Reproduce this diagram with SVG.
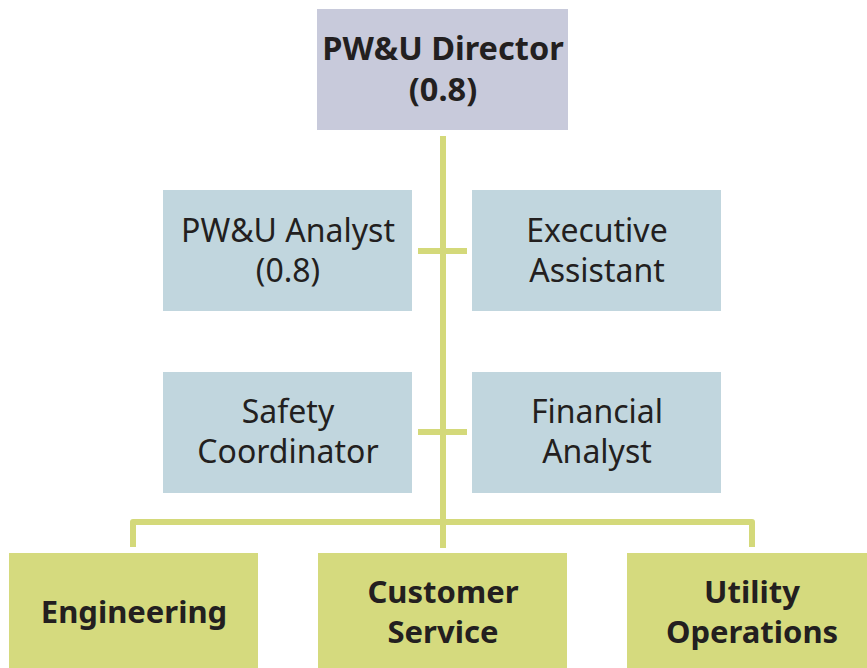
<svg xmlns="http://www.w3.org/2000/svg" width="867" height="668" viewBox="0 0 867 668">
<style>
.dir{fill:#C8CADB}
.staff{fill:#C1D6DE}
.dept{fill:#D5DA7E}
.conn{stroke:#D4D97A;stroke-width:6;fill:none;stroke-linejoin:round}
text{font-family:"Noto Sans","Liberation Sans",sans-serif;fill:#231F20;text-anchor:middle}
.b{font-weight:bold;font-size:31px}
.bd{font-weight:bold;font-size:32.5px}
.r{font-size:32px}
</style>
<rect width="867" height="668" fill="#ffffff"/>
<g id="connectors">
<line class="conn" x1="443" y1="136" x2="443" y2="548"/>
<line class="conn" x1="418" y1="251" x2="467" y2="251"/>
<line class="conn" x1="418" y1="432" x2="467" y2="432"/>
<path class="conn" d="M133 547 V522 H752 V547"/>
</g>
<g id="director">
<rect class="dir" x="317" y="9" width="251" height="121"/>
<text class="bd" x="443" y="60">PW&amp;U Director</text>
<text class="bd" x="443" y="101">(0.8)</text>
</g>
<g id="analyst">
<rect class="staff" x="163" y="190" width="249" height="121"/>
<text class="r" x="288" y="242">PW&amp;U Analyst</text>
<text class="r" x="288" y="282">(0.8)</text>
</g>
<g id="exec-assistant">
<rect class="staff" x="472" y="190" width="249" height="121"/>
<text class="r" x="597" y="242">Executive</text>
<text class="r" x="597" y="282">Assistant</text>
</g>
<g id="safety">
<rect class="staff" x="163" y="372" width="249" height="121"/>
<text class="r" x="288" y="423">Safety</text>
<text class="r" x="288" y="463">Coordinator</text>
</g>
<g id="financial">
<rect class="staff" x="472" y="372" width="249" height="121"/>
<text class="r" x="597" y="423">Financial</text>
<text class="r" x="597" y="463">Analyst</text>
</g>
<g id="engineering">
<rect class="dept" x="9" y="553" width="249" height="120"/>
<text class="b" x="134" y="623">Engineering</text>
</g>
<g id="customer-service">
<rect class="dept" x="318" y="553" width="249" height="120"/>
<text class="b" x="443" y="603">Customer</text>
<text class="b" x="443" y="643">Service</text>
</g>
<g id="utility-operations">
<rect class="dept" x="627" y="553" width="249" height="120"/>
<text class="b" x="752" y="603">Utility</text>
<text class="b" x="752" y="643">Operations</text>
</g>
</svg>
